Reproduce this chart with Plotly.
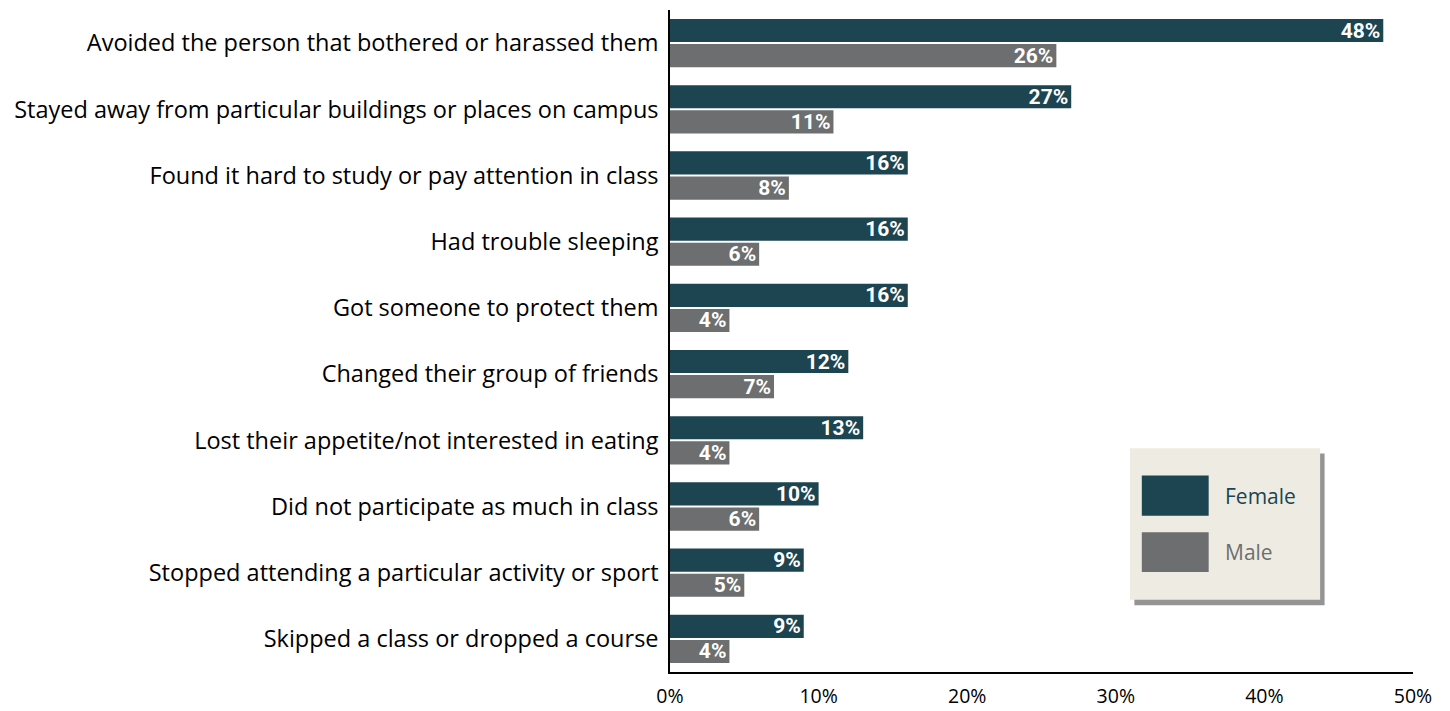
import plotly.graph_objects as go

categories = [
    "Avoided the person that bothered or harassed them",
    "Stayed away from particular buildings or places on campus",
    "Found it hard to study or pay attention in class",
    "Had trouble sleeping",
    "Got someone to protect them",
    "Changed their group of friends",
    "Lost their appetite/not interested in eating",
    "Did not participate as much in class",
    "Stopped attending a particular activity or sport",
    "Skipped a class or dropped a course",
]
female = [48, 27, 16, 16, 16, 12, 13, 10, 9, 9]
male = [26, 11, 8, 6, 4, 7, 4, 6, 5, 4]
tick_vals = [0, 10, 20, 30, 40, 50]
tick_text = ["0%", "10%", "20%", "30%", "40%", "50%"]

FEMALE_C = "#1C4451"
MALE_C = "#6D6E70"
LABEL_FONT = dict(family="Roboto, sans-serif", size=21, color="white")

fig = go.Figure()
fig.add_trace(go.Bar(
    y=categories, x=female, orientation="h", name="Female",
    marker=dict(color=FEMALE_C, line=dict(width=0)),
    text=[f"<b>{v}%</b>" for v in female], textposition="inside",
    insidetextanchor="end", textfont=LABEL_FONT, textangle=0,
    hoverinfo="skip",
))
fig.add_trace(go.Bar(
    y=categories, x=male, orientation="h", name="Male",
    marker=dict(color=MALE_C, line=dict(width=0)),
    text=[f"<b>{v}%</b>" for v in male], textposition="inside",
    insidetextanchor="end", textfont=LABEL_FONT, textangle=0,
    hoverinfo="skip",
))

fig.update_layout(
    width=1450, height=711,
    margin=dict(l=670, r=37, t=10, b=39),
    barmode="group", bargap=0.24, bargroupgap=0.08,
    plot_bgcolor="white", paper_bgcolor="white",
    showlegend=False, hovermode=False,
    uniformtext=dict(minsize=21, mode="show"),
    font=dict(family="Open Sans, sans-serif", color="black"),
)
fig.update_xaxes(
    range=[0, 50], tickvals=tick_vals, ticktext=tick_text,
    showgrid=False, zeroline=False, automargin=False,
    showline=True, linecolor="black", linewidth=2,
    ticks="outside", ticklen=6, tickcolor="rgba(0,0,0,0)",
    tickfont=dict(size=19.5, family="Open Sans, sans-serif", color="black"),
)
fig.update_yaxes(
    autorange="reversed", showgrid=False, zeroline=False, automargin=False,
    showline=True, linecolor="black", linewidth=1.5,
    ticks="outside", ticklen=5, tickcolor="rgba(0,0,0,0)",
    tickfont=dict(size=23.5, family="Open Sans, sans-serif", color="black"),
)

# custom legend box (paper coordinates)
x0, x1, y0, y1 = 0.619, 0.875, 0.109, 0.338
fig.add_shape(type="rect", xref="paper", yref="paper",
              x0=x0 + 0.006, x1=x1 + 0.006, y0=y0 - 0.008, y1=y1 - 0.008,
              fillcolor="rgba(60,60,60,0.55)", line=dict(width=0), layer="above")
fig.add_shape(type="rect", xref="paper", yref="paper",
              x0=x0, x1=x1, y0=y0, y1=y1,
              fillcolor="#EEECE2", line=dict(width=0), layer="above")
fig.add_shape(type="rect", xref="paper", yref="paper",
              x0=0.635, x1=0.725, y0=0.236, y1=0.297,
              fillcolor=FEMALE_C, line=dict(width=0), layer="above")
fig.add_shape(type="rect", xref="paper", yref="paper",
              x0=0.635, x1=0.725, y0=0.151, y1=0.211,
              fillcolor=MALE_C, line=dict(width=0), layer="above")
fig.add_annotation(xref="paper", yref="paper", x=0.744, y=0.266, text="Female",
                   showarrow=False, xanchor="left", yanchor="middle",
                   font=dict(size=21, color=FEMALE_C, family="Open Sans, sans-serif"))
fig.add_annotation(xref="paper", yref="paper", x=0.744, y=0.181, text="Male",
                   showarrow=False, xanchor="left", yanchor="middle",
                   font=dict(size=21, color=MALE_C, family="Open Sans, sans-serif"))

fig.write_html("out.html", config={"displayModeBar": False},
               post_script="document.body.style.margin='0';")
